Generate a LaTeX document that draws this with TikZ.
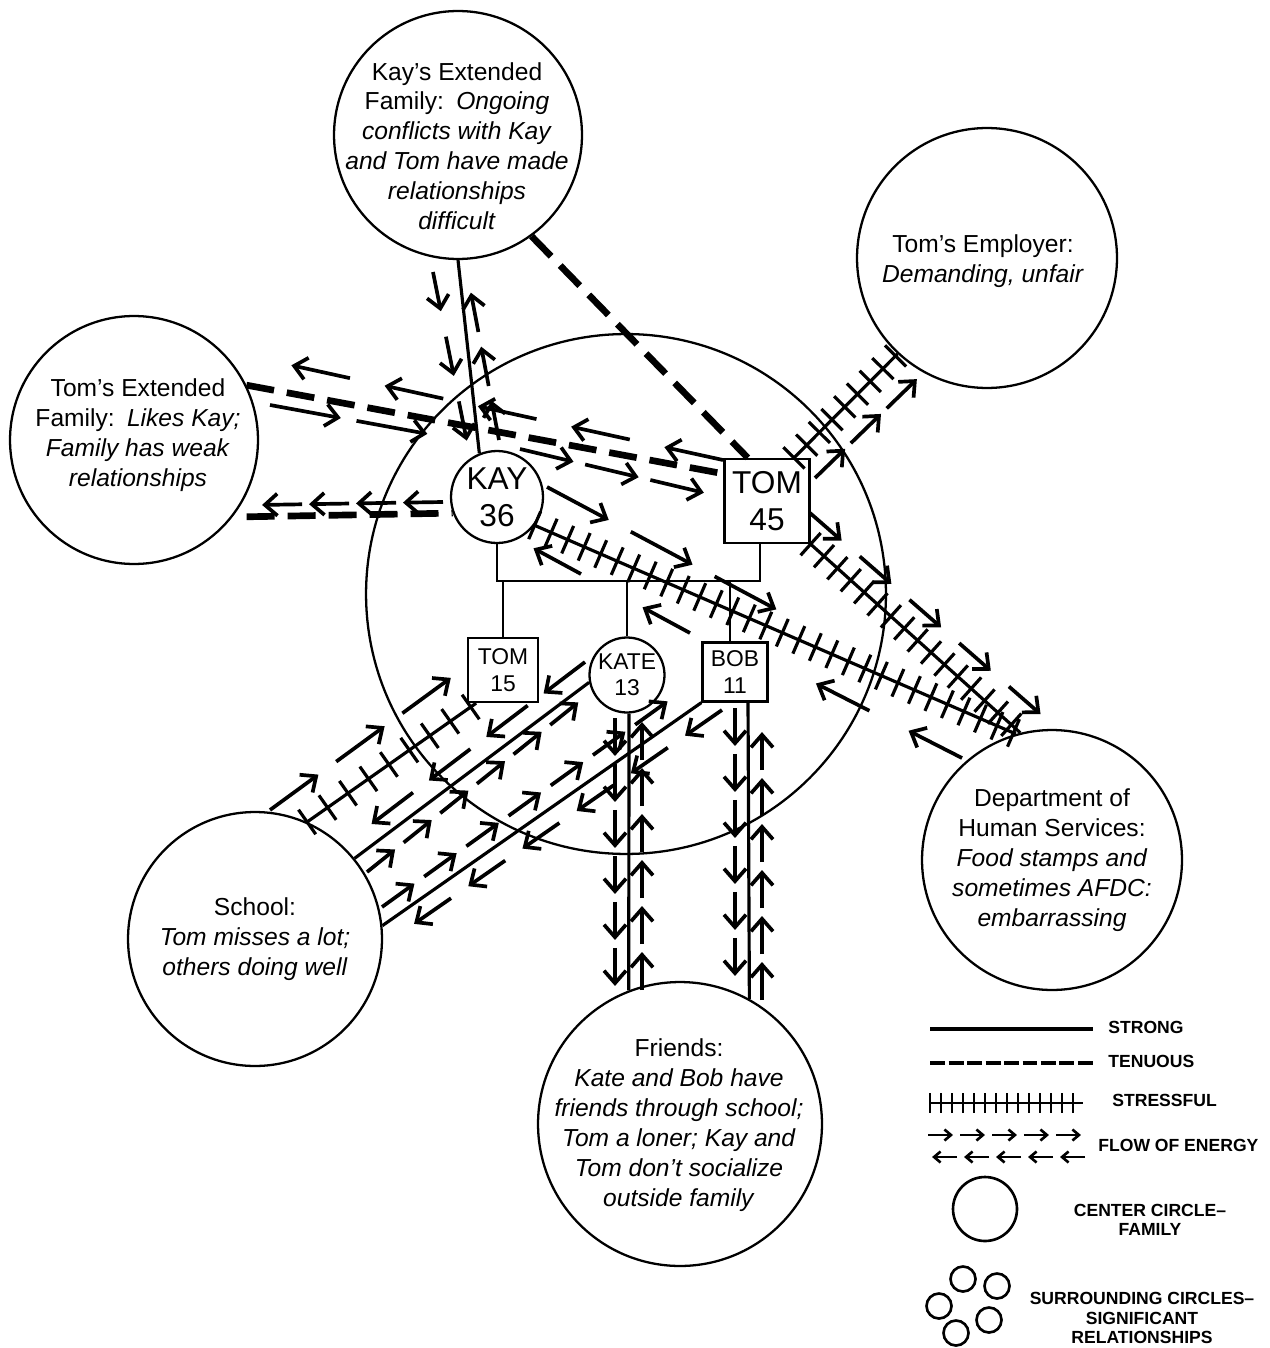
\documentclass[tikz,border=0pt]{standalone}
\usepackage{fontspec}
\setmainfont{Liberation Sans}
\usetikzlibrary{arrows.meta,decorations.markings,decorations.pathreplacing,calc}
\tikzset{
  outer/.style={circle, draw, line width=1.3pt, minimum size=#1, inner sep=0pt},
  otext/.style={align=center, inner sep=0pt, font=\fontsize{14}{17}\selectfont},
  fam/.style={draw, line width=1.3pt, inner sep=0pt, align=center, fill=white},
  famfont/.style={font=\fontsize{18}{21}\selectfont},
  kidfont/.style={font=\fontsize{13}{15}\selectfont},
  strong/.style={line width=1.8pt},
  tenuous/.style={line width=3.8pt, dash pattern=on 0.56cm off 0.26cm},
  stress/.style={line width=1.8pt, postaction={draw, decorate, decoration={ticks, segment length=#1, amplitude=0.3cm}}},
  stress/.default=0.36cm,
  famline/.style={line width=1.1pt},
  flowarr/.style={line width=2.1pt, -{Straight Barb[length=0.25cm, width=0.44cm]}},
  flow/.style 2 args={postaction={decorate, decoration={markings, mark=between positions #2 and 1 step #1 with {\draw[flowarr] (-#2,0pt) -- (0pt,0pt);}}}},
  legarr/.style={line width=1.5pt, -{Straight Barb[length=0.13cm, width=0.22cm]}},
  legflow/.style 2 args={postaction={decorate, decoration={markings, mark=between positions #2 and 1 step #1 with {\draw[legarr] (-#2,0pt) -- (0pt,0pt);}}}},
  legtext/.style={font=\fontsize{10}{11}\selectfont\bfseries, inner sep=0pt, align=center},
}
\begin{document}
\begin{tikzpicture}[x=0.02cm, y=-0.02cm]
\useasboundingbox (0,0) rectangle (1270,1348);

% family circle
\node[outer=10.4cm] (family) at (626,594) {};

% surrounding circles
\node[outer=4.96cm] (kayext) at (458,135) {};
\node[otext] (kayextT) at (457,146) {Kay's Extended\\Family:\enspace\textit{Ongoing}\\\textit{conflicts with Kay}\\\textit{and Tom have made}\\\textit{relationships}\\\textit{difficult}};
\node[outer=4.96cm] (tomext) at (134,440) {};
\node[otext] (tomextT) at (138,435) {Tom's Extended\\Family:\enspace\textit{Likes Kay;}\\\textit{Family has weak}\\\textit{relationships}};
\node[outer=5.2cm] (tomemp) at (987,258) {};
\node[otext] (tomempT) at (983,261) {Tom's Employer:\\\textit{Demanding, unfair}};
\node[outer=5.08cm] (school) at (255,939) {};
\node[otext] (schoolT) at (255,939) {School:\\\textit{Tom misses a lot;}\\\textit{others doing well}};
\node[outer=5.68cm] (friends) at (680,1124) {};
\node[otext] (friendsT) at (679,1125) {Friends:\\\textit{Kate and Bob have}\\\textit{friends through school;}\\\textit{Tom a loner; Kay and}\\\textit{Tom don't socialize}\\\textit{outside family}};
\node[outer=5.2cm] (dhs) at (1052,860) {};
\node[otext] (dhsT) at (1052,860) {Department of\\Human Services:\\\textit{Food stamps and}\\\textit{sometimes AFDC:}\\\textit{embarrassing}};

% family members
\node[fam, circle, minimum size=1.84cm, famfont] (kay) at (497,497) {KAY\\36};
\node[fam, minimum width=1.7cm, minimum height=1.68cm, famfont] (tom) at (767,501) {TOM\\45};
\node[fam, minimum width=1.4cm, minimum height=1.28cm, kidfont] (tomjr) at (503,670) {TOM\\15};
\node[fam, circle, minimum size=1.5cm, kidfont] (kate) at (627,675) {KATE\\13};
\node[fam, minimum width=1.3cm, minimum height=1.18cm, kidfont] (bob) at (735,672) {BOB\\11};

% genogram lines
\coordinate (tomdown) at ([xshift=-0.14cm]tom.south);
\coordinate (bobtop) at ([xshift=-0.1cm]bob.north);
\draw[famline] (kay.south) -- ++(0,37) coordinate (mL) -- (mL -| tomdown) -- (tomdown);
\draw[famline] (tomjr.north) -- (tomjr.north |- mL);
\draw[famline] (kate.north) -- (kate.north |- mL);
\draw[famline] (bobtop) -- (bobtop |- mL);

% relationship lines
\draw[strong] (kayext.-90) -- (kay.112);
\draw[tenuous] (kayext.-54.5) -- (tom.114);
\draw[tenuous] (tomext.26) -- (tom.148);
\draw[tenuous, shorten <=0.28cm] (tomext.-38) -- (kay.200);
\draw[stress] (tom.58) -- (tomemp.227);
\draw[stress] (kay.-37) -- (dhs.106);
\draw[stress] (tom.south east) -- (dhs.104);
\draw[stress=0.5cm] (school.66) -- (tomjr.231);
\draw[strong] (school.39) -- (kate.191);
\draw[strong] (school.6) -- (bob.south west);
\draw[strong] (kate.-87) -- (friends.111);
\draw[strong] (bob.-67) -- (friends.61);

% flows of energy
\coordinate (fa1) at (433,272); \coordinate (fa2) at (468,447);
\path[flow={1.32cm}{0.8cm}] (fa1) -- (fa2);
\coordinate (fb1) at (499,440); \coordinate (fb2) at (470,288);
\path[flow={1.1cm}{0.8cm}] (fb1) -- (fb2);
\coordinate (fc1) at (270,405); \coordinate (fc2) at (428,434);
\path[flow={1.76cm}{1.44cm}] (fc1) -- (fc2);
\coordinate (fd1) at (520,449); \coordinate (fd2) at (705,493);
\path[flow={1.34cm}{1.1cm}] (fd1) -- (fd2);
\coordinate (fe1) at (723,460); \coordinate (fe2) at (290,365);
\path[flow={1.91cm}{1.2cm}] (fe1) -- (fe2);
\coordinate (ff1) at (443,502); \coordinate (ff2) at (258,505);
\path[flow={0.94cm}{0.8cm}] (ff1) -- (ff2);
\coordinate (fg1) at (815,478); \coordinate (fg2) at (918,378);
\path[flow={1.0cm}{0.84cm}] (fg1) -- (fg2);
\coordinate (fh1) at (547,487); \coordinate (fh2) at (860,654);
\path[flow={1.9cm}{1.4cm}] (fh1) -- (fh2);
\coordinate (fi1) at (962,758); \coordinate (fi2) at (815,683);
\path[flow={2.08cm}{1.2cm}] (fi1) -- (fi2);
\coordinate (fi3) at (690,633); \coordinate (fi4) at (533,548);
\path[flow={2.48cm}{1.08cm}] (fi3) -- (fi4);
\coordinate (fj1) at (810,513); \coordinate (fj2) at (1045,718);
\path[flow={1.32cm}{0.84cm}] (fj1) -- (fj2);
\coordinate (fk1) at (270,810); \coordinate (fk2) at (452,677);
\path[flow={1.64cm}{1.2cm}] (fk1) -- (fk2);
\coordinate (fl1) at (585,662); \coordinate (fl2) at (361,832);
\path[flow={1.44cm}{1.04cm}] (fl1) -- (fl2);
\coordinate (fm1) at (367,872); \coordinate (fm2) at (585,697);
\path[flow={0.94cm}{0.72cm}] (fm1) -- (fm2);
\coordinate (fn1) at (382,907); \coordinate (fn2) at (700,678);
\path[flow={1.04cm}{0.8cm}] (fn1) -- (fn2);
\coordinate (fo1) at (722,710); \coordinate (fo2) at (398,935);
\path[flow={1.32cm}{0.9cm}] (fo1) -- (fo2);
\coordinate (fp1) at (615,718); \coordinate (fp2) at (615,993);
\path[flow={0.92cm}{0.76cm}] (fp1) -- (fp2);
\coordinate (fq1) at (642,990); \coordinate (fq2) at (642,715);
\path[flow={0.92cm}{0.76cm}] (fq1) -- (fq2);
\coordinate (fr1) at (735,708); \coordinate (fr2) at (735,1000);
\path[flow={0.92cm}{0.76cm}] (fr1) -- (fr2);
\coordinate (fs1) at (762,1000); \coordinate (fs2) at (762,705);
\path[flow={0.92cm}{0.76cm}] (fs1) -- (fs2);

% legend
\coordinate (l1a) at (930,1029); \coordinate (l1b) at (1093,1029);
\draw[strong] (l1a) -- (l1b);
\node[legtext, anchor=west] (lstrong) at (1108,1027) {STRONG};
\coordinate (l2a) at (930,1063); \coordinate (l2b) at (1093,1063);
\draw[line width=2.8pt, dash pattern=on 0.3cm off 0.07cm] (l2a) -- (l2b);
\node[legtext, anchor=west] (ltenuous) at (1108,1061) {TENUOUS};
\coordinate (l3a) at (930,1103); \coordinate (l3b) at (1083,1103);
\draw[line width=1.6pt, postaction={draw, decorate, decoration={ticks, segment length=0.22cm, amplitude=0.2cm}}] (l3a) -- (l3b);
\node[legtext, anchor=west] (lstress) at (1112,1100) {STRESSFUL};
\coordinate (l4a) at (928,1135); \coordinate (l4b) at (1085,1135);
\path[legflow={0.64cm}{0.5cm}] (l4a) -- (l4b);
\coordinate (l5a) at (1085,1157); \coordinate (l5b) at (928,1157);
\path[legflow={0.64cm}{0.5cm}] (l5a) -- (l5b);
\node[legtext, anchor=west] (lflow) at (1098,1145) {FLOW OF ENERGY};
\node[outer=1.28cm, line width=1.5pt] (lcenter) at (985,1209) {};
\node[legtext] (lcenterT) at (1150,1220) {CENTER CIRCLE--\\FAMILY};
\node[outer=0.5cm, line width=1.5pt] (ls1) at (963,1279) {};
\node[outer=0.5cm, line width=1.5pt] (ls2) at (997,1286) {};
\node[outer=0.5cm, line width=1.5pt] (ls3) at (939,1306) {};
\node[outer=0.5cm, line width=1.5pt] (ls4) at (989,1320) {};
\node[outer=0.5cm, line width=1.5pt] (ls5) at (956,1333) {};
\node[legtext] (lsurrT) at (1142,1318) {SURROUNDING CIRCLES--\\SIGNIFICANT\\RELATIONSHIPS};
\end{tikzpicture}
\end{document}
